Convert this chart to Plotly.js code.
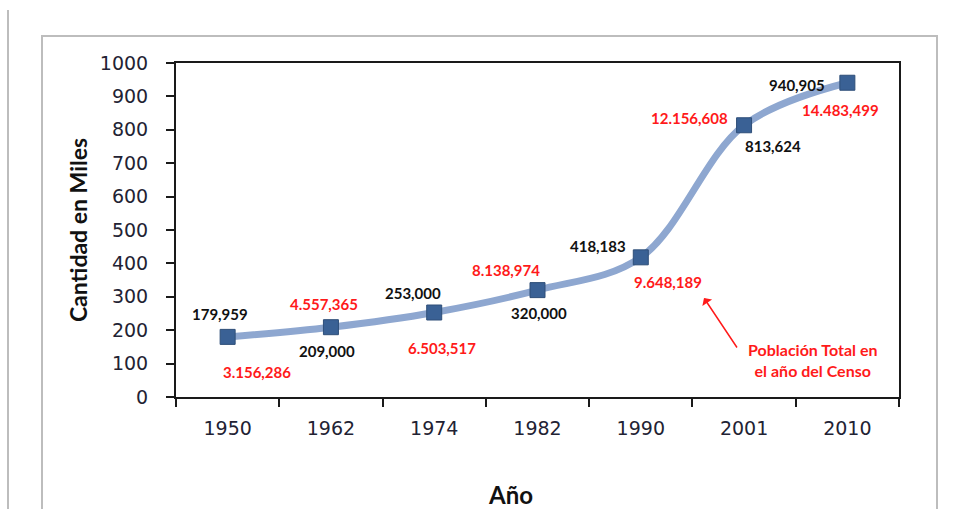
<!DOCTYPE html>
<html>
<head>
<meta charset="utf-8">
<script src="https://cdn.plot.ly/plotly-3.0.1.min.js"></script>
<style>html,body{margin:0;padding:0;background:#fff;}#chart{width:961px;height:509px;}</style>
</head>
<body>
<div id="chart"></div>
<script>
// Data
const years = ['1950', '1962', '1974', '1982', '1990', '2001', '2010'];
const poblacionMiles = [179.959, 209.0, 253.0, 320.0, 418.183, 813.624, 940.905];
const etiquetasMiles = ['179,959', '209,000', '253,000', '320,000', '418,183', '813,624', '940,905'];
const poblacionTotal = ['3.156,286', '4.557,365', '6.503,517', '8.138,974', '9.648,189', '12.156,608', '14.483,499'];

// Label offsets (styling only, pixels relative to the marker)
const blackOff = [[-8, 23], [-4, -24], [-21, 20], [1, -23], [-43, 11], [29, -21], [-50, -2]];
const redOff = [[29, -35], [-7, 23], [8, -35], [-32, 20], [27, -25], [-55, 7], [-7, -27]];

const annotations = [];
years.forEach((yr, i) => {
  annotations.push({
    x: i, y: poblacionMiles[i], xref: 'x', yref: 'y',
    text: etiquetasMiles[i], showarrow: false,
    xshift: blackOff[i][0], yshift: blackOff[i][1],
    font: {family: 'Lato, "Open Sans", sans-serif', size: 15, color: '#111111', weight: 'bold'}
  });
  annotations.push({
    x: i, y: poblacionMiles[i], xref: 'x', yref: 'y',
    text: poblacionTotal[i], showarrow: false,
    xshift: redOff[i][0], yshift: redOff[i][1],
    font: {family: 'Lato, "Open Sans", sans-serif', size: 15, color: '#FF1A1A', weight: 'bold'}
  });
});

// Callout text and arrow
annotations.push({
  xref: 'paper', yref: 'paper', x: (813 - 176) / 723, y: (397 - 360) / 334,
  xanchor: 'center', yanchor: 'middle',
  text: 'Población Total en<br>el año del Censo', showarrow: false,
  align: 'center',
  font: {family: 'Lato, "Open Sans", sans-serif', size: 16, color: '#FF1A1A', weight: 'bold'}
});
annotations.push({
  xref: 'paper', yref: 'paper', x: (704 - 176) / 723, y: (397 - 298) / 334,
  text: '', showarrow: true, axref: 'pixel', ayref: 'pixel', ax: 34, ay: 51,
  arrowhead: 1, arrowsize: 1.3, arrowwidth: 1.5, arrowcolor: '#FF1A1A', standoff: 0, startstandoff: 0
});

// Axis title Año as annotation (placed like the original)
annotations.push({
  xref: 'paper', yref: 'paper', x: (510 - 176) / 723, y: (397 - 494) / 334,
  xanchor: 'center', yanchor: 'middle',
  text: 'Año', showarrow: false,
  font: {family: 'Lato, "Open Sans", sans-serif', size: 24, color: '#111111', weight: 'bold'}
});

const trace = {
  x: years, y: poblacionMiles, type: 'scatter', mode: 'lines+markers',
  line: {shape: 'spline', smoothing: 1, color: '#8EA7D0', width: 7},
  marker: {symbol: 'square', size: 15, color: '#3A6195', line: {color: '#2E4E78', width: 1}},
  hoverinfo: 'x+y'
};

const L = 176, R = 899, T = 63, B = 397;
const px = v => (v - L) / (R - L);
const py = v => (B - v) / (B - T);

const layout = {
  width: 961, height: 509,
  margin: {l: L, r: 961 - R, t: T, b: 509 - B, pad: 0},
  paper_bgcolor: '#ffffff', plot_bgcolor: '#ffffff',
  showlegend: false,
  xaxis: {
    type: 'category', categoryorder: 'array', categoryarray: years,
    range: [-0.5, years.length - 0.5], autorange: false,
    tickson: 'boundaries', ticks: 'outside', ticklen: 8, tickwidth: 2, tickcolor: '#1a1a1a',
    showline: true, linewidth: 2, linecolor: '#1a1a1a', mirror: true,
    showgrid: false, zeroline: false, ticklabelstandoff: 13, tickangle: 0,
    tickfont: {family: '"DejaVu Sans", Verdana, sans-serif', size: 19, color: '#222233'},
    title: {text: ''}
  },
  yaxis: {
    range: [0, 1000], autorange: false, dtick: 100, tick0: 0, ticks: 'outside', ticklen: 8, tickwidth: 2, tickcolor: '#1a1a1a',
    showline: true, linewidth: 2, linecolor: '#1a1a1a', mirror: true,
    showgrid: false, zeroline: false, ticklabelstandoff: 14,
    tickfont: {family: '"DejaVu Sans", Verdana, sans-serif', size: 19, color: '#222233'},
    title: {text: 'Cantidad en Miles', standoff: 6,
      font: {family: 'Lato, "Open Sans", sans-serif', size: 23, color: '#111111', weight: 'bold'}}
  },
  annotations: annotations,
  shapes: [
    {type: 'rect', xref: 'paper', yref: 'paper', x0: px(42), x1: px(937), y0: py(520), y1: py(36),
      line: {color: '#BDBDBD', width: 2}, fillcolor: 'rgba(0,0,0,0)', layer: 'below'},
    {type: 'line', xref: 'paper', yref: 'paper', x0: px(8), x1: px(8), y0: py(515), y1: py(10),
      line: {color: '#BDBDBD', width: 2}}
  ]
};

Plotly.newPlot('chart', [trace], layout, {displayModeBar: false, staticPlot: true});
</script>
</body>
</html>
